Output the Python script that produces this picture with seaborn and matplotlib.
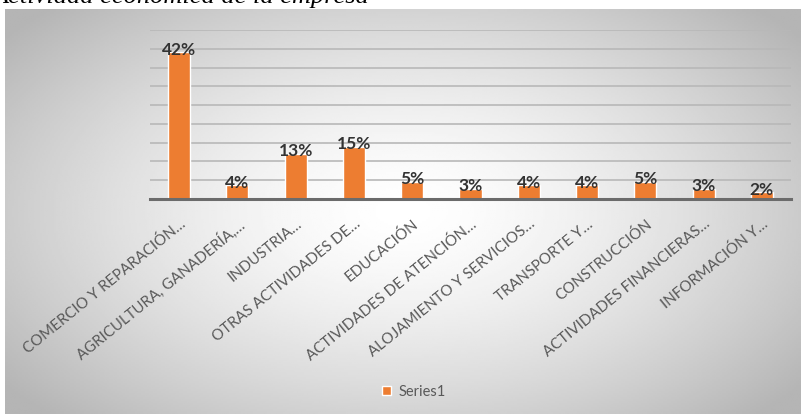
import numpy as np
import pandas as pd
import matplotlib
matplotlib.use("Agg")
import matplotlib.pyplot as plt
import seaborn as sns

categories = [
    "COMERCIO Y REPARACIÓN…",
    "AGRICULTURA, GANADERÍA,…",
    "INDUSTRIA…",
    "OTRAS ACTIVIDADES DE…",
    "EDUCACIÓN",
    "ACTIVIDADES DE ATENCIÓN…",
    "ALOJAMIENTO Y SERVICIOS…",
    "TRANSPORTE Y…",
    "CONSTRUCCIÓN",
    "ACTIVIDADES FINANCIERAS…",
    "INFORMACIÓN Y…",
]
values = [42, 4, 13, 15, 5, 3, 4, 4, 5, 3, 2]
series_name = "Series1"
title = "Actividad económica de la empresa"

df = pd.DataFrame({"cat": categories, "val": values, "series": series_name})

sns.set_theme(style="white")
plt.rcParams["font.family"] = ["Lato", "DejaVu Sans"]

W, H = 805, 416
fig = plt.figure(figsize=(W / 100, H / 100), dpi=100)
fig.patch.set_facecolor("white")

# gradient chart background
bg = fig.add_axes([5 / W, 2 / H, 795 / W, 405 / H])
yy, xx = np.mgrid[-1:1:200j, -1:1:400j]
r = np.clip(np.sqrt((xx * 0.95) ** 2 + (yy * 0.85) ** 2), 0, 1.2)
grad = 1 - 0.22 * r ** 1.5
bg.imshow(grad, cmap="gray", vmin=0, vmax=1, aspect="auto", extent=[0, 1, 0, 1])
bg.set_axis_off()

# title, cut off at the top
fig.text(-8 / W, 1 - 3 / H, title, fontsize=19, style="italic",
         family="Liberation Serif", color="black", va="baseline", ha="left")

ax = fig.add_axes([150 / W, (H - 199) / H, 641 / W, 169 / H])
ax.set_facecolor("none")
sns.barplot(data=df, x="cat", y="val", hue="series", palette=["#ED7D31"],
            width=0.38, ax=ax, saturation=1)

ymax = 48.3
ax.set_ylim(0, ymax)
ax.set_yticks(np.linspace(0, ymax, 10))
ax.yaxis.grid(True, color="#b8b8b8", linewidth=1.2)
ax.set_axisbelow(True)
ax.tick_params(axis="y", left=False, labelleft=False)
ax.tick_params(axis="x", bottom=False, pad=7)
for s in ["top", "right", "left"]:
    ax.spines[s].set_visible(False)
ax.spines["bottom"].set_color("#6b6b6b")
ax.spines["bottom"].set_linewidth(2.2)
ax.set_xlabel("")
ax.set_ylabel("")
ax.set_xlim(-0.5, len(categories) - 0.5)

for lab in ax.get_xticklabels():
    lab.set_rotation(39)
    lab.set_ha("right")
    lab.set_rotation_mode("anchor")
    lab.set_fontsize(10.8)
    lab.set_color("#595959")

for c in ax.containers:
    ax.bar_label(c, labels=[f"{v}%" for v in values], fontsize=12.5,
                 fontweight="bold", color="#333333", padding=-4)

leg = ax.legend(loc="center", bbox_to_anchor=((414 - 150) / 641, -(392 - 199) / 169),
                frameon=False, fontsize=10.5, handlelength=0.6, handleheight=0.6,
                handletextpad=0.5)
for t in leg.get_texts():
    t.set_color("#595959")

fig.savefig("out.png", dpi=100)
